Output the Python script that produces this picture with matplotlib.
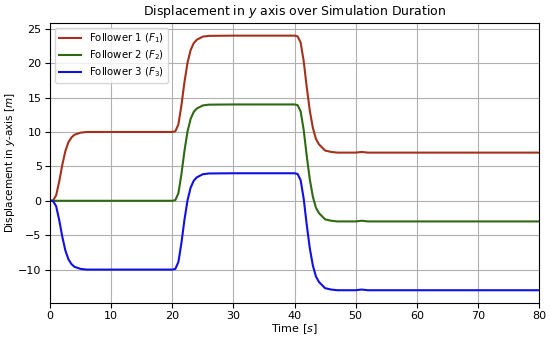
import matplotlib
matplotlib.use("Agg")
import matplotlib.pyplot as plt

# time samples (s)
time = [0, 0.5, 1, 1.5, 2, 2.5, 3, 3.5, 4, 5, 6, 10, 15, 20,
        20.5, 21, 21.5, 22, 22.5, 23, 23.5, 24, 25, 26, 30, 35, 40,
        40.5, 41, 41.5, 42, 42.5, 43, 43.5, 44, 45, 46, 47, 50, 51, 52, 60, 70, 80]

# follower displacements in y (m)
follower1 = [0, 0.05, 0.8, 2.8, 5.2, 7.2, 8.5, 9.2, 9.6, 9.9, 10, 10, 10, 10,
             10.1, 11.1, 13.9, 17.3, 20.1, 21.9, 22.9, 23.4, 23.86, 23.97, 24, 24, 24,
             23.9, 23.0, 20.3, 16.5, 13.1, 10.6, 9.0, 8.2, 7.3, 7.1, 7.0, 7.0, 7.1, 7.0, 7.0, 7.0, 7.0]
follower2 = [0, 0, 0, 0, 0, 0, 0, 0, 0, 0, 0, 0, 0, 0,
             0.1, 1.1, 3.9, 7.3, 10.1, 11.9, 12.9, 13.4, 13.86, 13.97, 14, 14, 14,
             13.9, 13.0, 10.3, 6.5, 3.1, 0.6, -1.0, -1.8, -2.7, -2.9, -3.0, -3.0, -2.9, -3.0, -3.0, -3.0, -3.0]
follower3 = [0, -0.05, -0.8, -2.8, -5.2, -7.2, -8.5, -9.2, -9.6, -9.9, -10, -10, -10, -10,
             -9.9, -8.9, -6.1, -2.7, 0.1, 1.9, 2.9, 3.4, 3.86, 3.97, 4, 4, 4,
             3.9, 3.0, 0.3, -3.5, -6.9, -9.4, -11.0, -11.8, -12.7, -12.9, -13.0, -13.0, -12.9, -13.0, -13.0, -13.0, -13.0]

labels = ["Follower 1 ($F_1$)", "Follower 2 ($F_2$)", "Follower 3 ($F_3$)"]
colors = ["#a3311b", "#2d6a12", "#1010e6"]

fig = plt.figure(figsize=(5.5, 3.37), dpi=100)
ax = fig.add_axes([0.091, 0.101, 0.889, 0.831])

for y, lab, c in zip([follower1, follower2, follower3], labels, colors):
    ax.plot(time, y, color=c, lw=1.5, label=lab)

ax.set_xlim(0, 80)
ax.set_xticks(range(0, 81, 10))
ax.set_yticks([-10, -5, 0, 5, 10, 15, 20, 25])
ax.grid(True, color="#b0b0b0", lw=0.8)
ax.tick_params(labelsize=8, pad=2.5)

ax.set_title("Displacement in $y$ axis over Simulation Duration", fontsize=9)
ax.set_xlabel("Time [$s$]", fontsize=8, labelpad=1)
ax.set_ylabel("Displacement in $y$-axis [$m$]", fontsize=7.5, labelpad=1)
ax.legend(loc="upper left", fontsize=7.3, handlelength=2.2, borderpad=0.35,
          labelspacing=0.35)

fig.savefig("out.png", dpi=100)
